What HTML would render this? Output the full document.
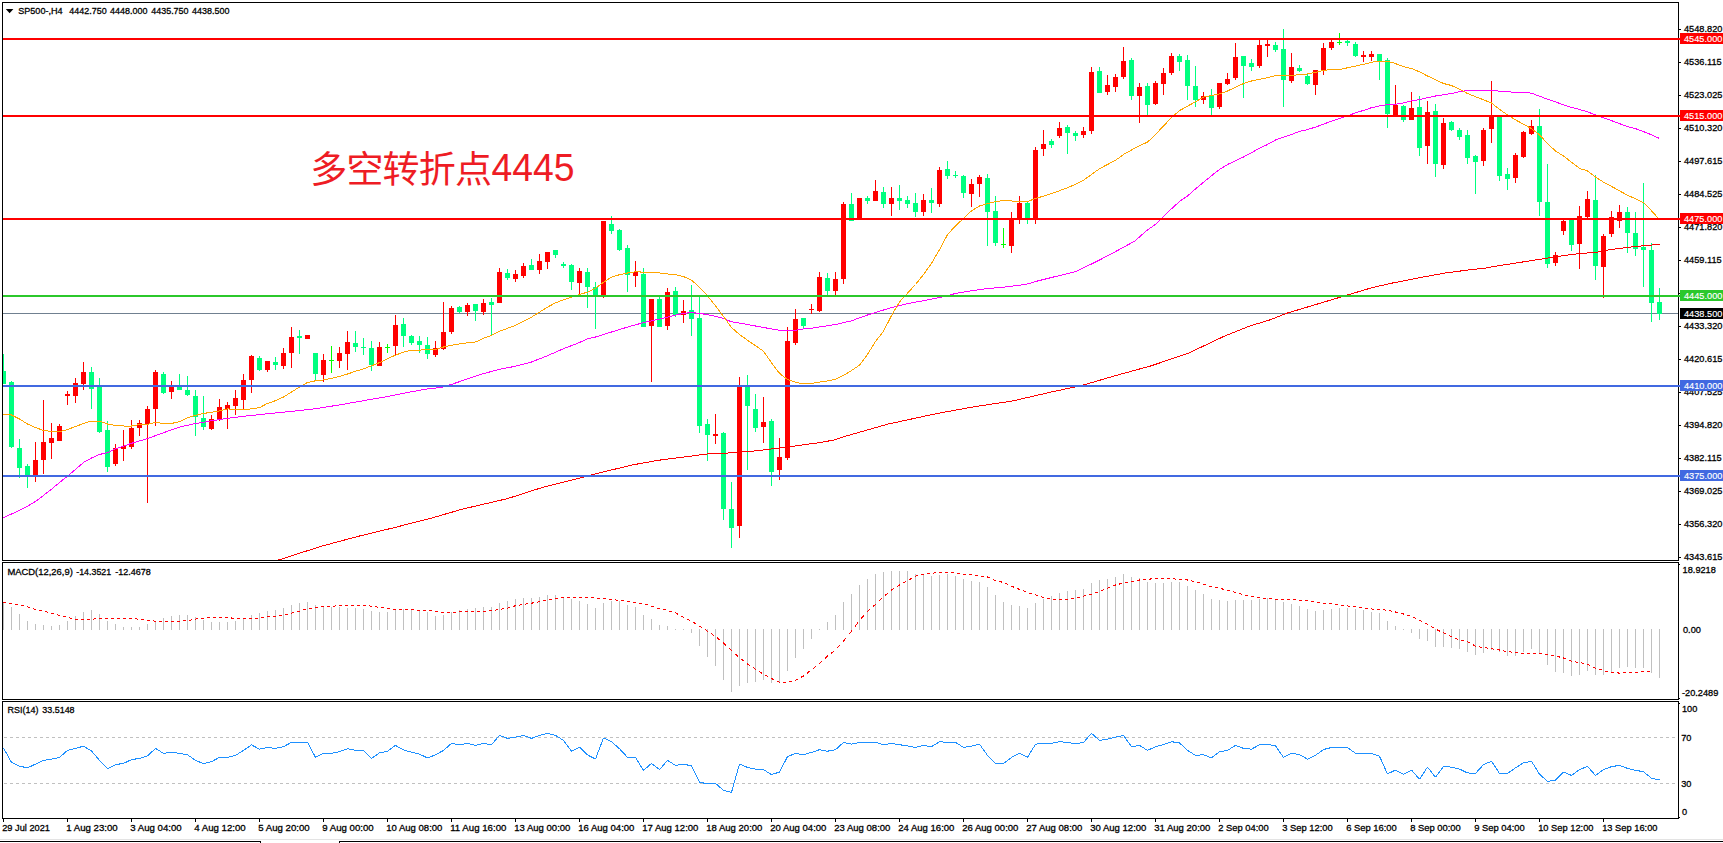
<!DOCTYPE html>
<html lang="zh"><head><meta charset="utf-8"><title>SP500 H4</title>
<style>html,body{margin:0;padding:0;background:#fff}body{width:1723px;height:843px;overflow:hidden}svg{display:block}text{font-family:"Liberation Sans","Noto Sans CJK SC",sans-serif;white-space:pre}</style>
</head><body>
<svg width="1723" height="843" viewBox="0 0 1723 843">
<rect width="1723" height="843" fill="#fff"/>
<defs><clipPath id="cm"><rect x="3" y="3" width="1675" height="557"/></clipPath></defs>
<g shape-rendering="crispEdges">
<g clip-path="url(#cm)">
<rect x="3" y="313" width="1675" height="1" fill="#708090"/>
<rect x="3" y="354" width="1" height="30" fill="#00ff7f"/>
<rect x="1" y="371" width="5" height="13" fill="#00ff7f"/>
<rect x="11" y="381" width="1" height="67" fill="#00ff7f"/>
<rect x="9" y="382" width="5" height="65" fill="#00ff7f"/>
<rect x="19" y="439" width="1" height="39" fill="#00ff7f"/>
<rect x="17" y="448" width="5" height="20" fill="#00ff7f"/>
<rect x="27" y="464" width="1" height="24" fill="#00ff7f"/>
<rect x="25" y="466" width="5" height="9" fill="#00ff7f"/>
<rect x="35" y="442" width="1" height="40" fill="#ff0000"/>
<rect x="33" y="460" width="5" height="15" fill="#ff0000"/>
<rect x="43" y="400" width="1" height="74" fill="#ff0000"/>
<rect x="41" y="442" width="5" height="18" fill="#ff0000"/>
<rect x="51" y="423" width="1" height="36" fill="#ff0000"/>
<rect x="49" y="438" width="5" height="5" fill="#ff0000"/>
<rect x="59" y="424" width="1" height="17" fill="#ff0000"/>
<rect x="57" y="426" width="5" height="15" fill="#ff0000"/>
<rect x="67" y="391" width="1" height="14" fill="#ff0000"/>
<rect x="65" y="394" width="5" height="2" fill="#ff0000"/>
<rect x="75" y="378" width="1" height="25" fill="#ff0000"/>
<rect x="73" y="383" width="5" height="13" fill="#ff0000"/>
<rect x="83" y="362" width="1" height="28" fill="#ff0000"/>
<rect x="81" y="372" width="5" height="12" fill="#ff0000"/>
<rect x="91" y="367" width="1" height="42" fill="#00ff7f"/>
<rect x="89" y="372" width="5" height="17" fill="#00ff7f"/>
<rect x="99" y="378" width="1" height="55" fill="#00ff7f"/>
<rect x="97" y="387" width="5" height="45" fill="#00ff7f"/>
<rect x="107" y="421" width="1" height="51" fill="#00ff7f"/>
<rect x="105" y="430" width="5" height="37" fill="#00ff7f"/>
<rect x="115" y="444" width="1" height="22" fill="#ff0000"/>
<rect x="113" y="448" width="5" height="16" fill="#ff0000"/>
<rect x="123" y="430" width="1" height="31" fill="#ff0000"/>
<rect x="121" y="446" width="5" height="3" fill="#ff0000"/>
<rect x="131" y="420" width="1" height="29" fill="#ff0000"/>
<rect x="129" y="428" width="5" height="19" fill="#ff0000"/>
<rect x="139" y="420" width="1" height="16" fill="#ff0000"/>
<rect x="137" y="423" width="5" height="5" fill="#ff0000"/>
<rect x="147" y="406" width="1" height="97" fill="#ff0000"/>
<rect x="145" y="409" width="5" height="15" fill="#ff0000"/>
<rect x="155" y="370" width="1" height="56" fill="#ff0000"/>
<rect x="153" y="372" width="5" height="37" fill="#ff0000"/>
<rect x="163" y="372" width="1" height="22" fill="#00ff7f"/>
<rect x="161" y="374" width="5" height="19" fill="#00ff7f"/>
<rect x="171" y="381" width="1" height="18" fill="#ff0000"/>
<rect x="169" y="387" width="5" height="5" fill="#ff0000"/>
<rect x="179" y="374" width="1" height="16" fill="#00ff7f"/>
<rect x="177" y="387" width="5" height="3" fill="#00ff7f"/>
<rect x="187" y="376" width="1" height="20" fill="#00ff7f"/>
<rect x="185" y="390" width="5" height="5" fill="#00ff7f"/>
<rect x="195" y="390" width="1" height="46" fill="#00ff7f"/>
<rect x="193" y="396" width="5" height="21" fill="#00ff7f"/>
<rect x="203" y="396" width="1" height="34" fill="#00ff7f"/>
<rect x="201" y="418" width="5" height="9" fill="#00ff7f"/>
<rect x="211" y="415" width="1" height="15" fill="#ff0000"/>
<rect x="209" y="419" width="5" height="10" fill="#ff0000"/>
<rect x="219" y="399" width="1" height="22" fill="#ff0000"/>
<rect x="217" y="407" width="5" height="12" fill="#ff0000"/>
<rect x="227" y="402" width="1" height="27" fill="#ff0000"/>
<rect x="225" y="405" width="5" height="4" fill="#ff0000"/>
<rect x="235" y="390" width="1" height="25" fill="#ff0000"/>
<rect x="233" y="398" width="5" height="8" fill="#ff0000"/>
<rect x="243" y="374" width="1" height="36" fill="#ff0000"/>
<rect x="241" y="380" width="5" height="20" fill="#ff0000"/>
<rect x="251" y="355" width="1" height="38" fill="#ff0000"/>
<rect x="249" y="356" width="5" height="24" fill="#ff0000"/>
<rect x="259" y="356" width="1" height="15" fill="#00ff7f"/>
<rect x="257" y="358" width="5" height="12" fill="#00ff7f"/>
<rect x="267" y="361" width="1" height="11" fill="#ff0000"/>
<rect x="265" y="361" width="5" height="9" fill="#ff0000"/>
<rect x="275" y="357" width="1" height="13" fill="#00ff7f"/>
<rect x="273" y="362" width="5" height="3" fill="#00ff7f"/>
<rect x="283" y="348" width="1" height="21" fill="#ff0000"/>
<rect x="281" y="353" width="5" height="13" fill="#ff0000"/>
<rect x="291" y="327" width="1" height="41" fill="#ff0000"/>
<rect x="289" y="337" width="5" height="16" fill="#ff0000"/>
<rect x="299" y="330" width="1" height="24" fill="#00ff7f"/>
<rect x="297" y="336" width="5" height="2" fill="#00ff7f"/>
<rect x="307" y="335" width="1" height="4" fill="#ff0000"/>
<rect x="305" y="335" width="5" height="4" fill="#ff0000"/>
<rect x="315" y="353" width="1" height="27" fill="#00ff7f"/>
<rect x="313" y="353" width="5" height="21" fill="#00ff7f"/>
<rect x="323" y="354" width="1" height="28" fill="#ff0000"/>
<rect x="321" y="360" width="5" height="15" fill="#ff0000"/>
<rect x="331" y="346" width="1" height="27" fill="#00ff00"/>
<rect x="329" y="360" width="5" height="1" fill="#00ff00"/>
<rect x="339" y="347" width="1" height="21" fill="#ff0000"/>
<rect x="337" y="353" width="5" height="8" fill="#ff0000"/>
<rect x="347" y="331" width="1" height="39" fill="#ff0000"/>
<rect x="345" y="342" width="5" height="12" fill="#ff0000"/>
<rect x="355" y="331" width="1" height="21" fill="#00ff7f"/>
<rect x="353" y="343" width="5" height="4" fill="#00ff7f"/>
<rect x="363" y="338" width="1" height="17" fill="#00ff7f"/>
<rect x="361" y="347" width="5" height="1" fill="#00ff7f"/>
<rect x="371" y="341" width="1" height="30" fill="#00ff7f"/>
<rect x="369" y="348" width="5" height="17" fill="#00ff7f"/>
<rect x="379" y="342" width="1" height="24" fill="#ff0000"/>
<rect x="377" y="347" width="5" height="19" fill="#ff0000"/>
<rect x="387" y="344" width="1" height="9" fill="#00ff00"/>
<rect x="385" y="347" width="5" height="1" fill="#00ff00"/>
<rect x="395" y="315" width="1" height="40" fill="#ff0000"/>
<rect x="393" y="325" width="5" height="21" fill="#ff0000"/>
<rect x="403" y="318" width="1" height="29" fill="#00ff7f"/>
<rect x="401" y="324" width="5" height="12" fill="#00ff7f"/>
<rect x="411" y="335" width="1" height="10" fill="#00ff7f"/>
<rect x="409" y="336" width="5" height="7" fill="#00ff7f"/>
<rect x="419" y="336" width="1" height="17" fill="#00ff7f"/>
<rect x="417" y="341" width="5" height="4" fill="#00ff7f"/>
<rect x="427" y="337" width="1" height="22" fill="#00ff7f"/>
<rect x="425" y="345" width="5" height="9" fill="#00ff7f"/>
<rect x="435" y="341" width="1" height="16" fill="#ff0000"/>
<rect x="433" y="348" width="5" height="7" fill="#ff0000"/>
<rect x="443" y="302" width="1" height="48" fill="#ff0000"/>
<rect x="441" y="332" width="5" height="17" fill="#ff0000"/>
<rect x="451" y="306" width="1" height="28" fill="#ff0000"/>
<rect x="449" y="308" width="5" height="24" fill="#ff0000"/>
<rect x="459" y="306" width="1" height="7" fill="#00ff7f"/>
<rect x="457" y="307" width="5" height="5" fill="#00ff7f"/>
<rect x="467" y="303" width="1" height="13" fill="#ff0000"/>
<rect x="465" y="305" width="5" height="7" fill="#ff0000"/>
<rect x="475" y="304" width="1" height="17" fill="#00ff7f"/>
<rect x="473" y="304" width="5" height="7" fill="#00ff7f"/>
<rect x="483" y="299" width="1" height="16" fill="#ff0000"/>
<rect x="481" y="303" width="5" height="9" fill="#ff0000"/>
<rect x="491" y="298" width="1" height="37" fill="#00ff7f"/>
<rect x="489" y="302" width="5" height="3" fill="#00ff7f"/>
<rect x="499" y="268" width="1" height="35" fill="#ff0000"/>
<rect x="497" y="272" width="5" height="31" fill="#ff0000"/>
<rect x="507" y="269" width="1" height="11" fill="#00ff7f"/>
<rect x="505" y="273" width="5" height="5" fill="#00ff7f"/>
<rect x="515" y="270" width="1" height="12" fill="#ff0000"/>
<rect x="513" y="274" width="5" height="5" fill="#ff0000"/>
<rect x="523" y="263" width="1" height="15" fill="#ff0000"/>
<rect x="521" y="266" width="5" height="10" fill="#ff0000"/>
<rect x="531" y="259" width="1" height="11" fill="#00ff7f"/>
<rect x="529" y="265" width="5" height="5" fill="#00ff7f"/>
<rect x="539" y="254" width="1" height="20" fill="#ff0000"/>
<rect x="537" y="261" width="5" height="9" fill="#ff0000"/>
<rect x="547" y="252" width="1" height="17" fill="#ff0000"/>
<rect x="545" y="252" width="5" height="10" fill="#ff0000"/>
<rect x="555" y="250" width="1" height="8" fill="#00ff7f"/>
<rect x="553" y="250" width="5" height="5" fill="#00ff7f"/>
<rect x="563" y="262" width="1" height="6" fill="#00ff7f"/>
<rect x="561" y="264" width="5" height="2" fill="#00ff7f"/>
<rect x="571" y="264" width="1" height="26" fill="#00ff7f"/>
<rect x="569" y="265" width="5" height="17" fill="#00ff7f"/>
<rect x="579" y="268" width="1" height="27" fill="#ff0000"/>
<rect x="577" y="271" width="5" height="12" fill="#ff0000"/>
<rect x="587" y="268" width="1" height="40" fill="#00ff7f"/>
<rect x="585" y="272" width="5" height="15" fill="#00ff7f"/>
<rect x="595" y="282" width="1" height="47" fill="#00ff7f"/>
<rect x="593" y="287" width="5" height="9" fill="#00ff7f"/>
<rect x="603" y="221" width="1" height="77" fill="#ff0000"/>
<rect x="601" y="221" width="5" height="74" fill="#ff0000"/>
<rect x="611" y="216" width="1" height="18" fill="#00ff7f"/>
<rect x="609" y="224" width="5" height="7" fill="#00ff7f"/>
<rect x="619" y="229" width="1" height="22" fill="#00ff7f"/>
<rect x="617" y="230" width="5" height="20" fill="#00ff7f"/>
<rect x="627" y="245" width="1" height="47" fill="#00ff7f"/>
<rect x="625" y="248" width="5" height="27" fill="#00ff7f"/>
<rect x="635" y="261" width="1" height="26" fill="#ff0000"/>
<rect x="633" y="272" width="5" height="4" fill="#ff0000"/>
<rect x="643" y="268" width="1" height="59" fill="#00ff7f"/>
<rect x="641" y="274" width="5" height="53" fill="#00ff7f"/>
<rect x="651" y="299" width="1" height="83" fill="#ff0000"/>
<rect x="649" y="299" width="5" height="27" fill="#ff0000"/>
<rect x="659" y="297" width="1" height="30" fill="#00ff7f"/>
<rect x="657" y="299" width="5" height="28" fill="#00ff7f"/>
<rect x="667" y="288" width="1" height="42" fill="#ff0000"/>
<rect x="665" y="292" width="5" height="34" fill="#ff0000"/>
<rect x="675" y="287" width="1" height="30" fill="#00ff7f"/>
<rect x="673" y="291" width="5" height="24" fill="#00ff7f"/>
<rect x="683" y="300" width="1" height="23" fill="#ff0000"/>
<rect x="681" y="311" width="5" height="4" fill="#ff0000"/>
<rect x="691" y="285" width="1" height="51" fill="#00ff7f"/>
<rect x="689" y="310" width="5" height="9" fill="#00ff7f"/>
<rect x="699" y="297" width="1" height="136" fill="#00ff7f"/>
<rect x="697" y="318" width="5" height="108" fill="#00ff7f"/>
<rect x="707" y="419" width="1" height="42" fill="#00ff7f"/>
<rect x="705" y="424" width="5" height="11" fill="#00ff7f"/>
<rect x="715" y="414" width="1" height="30" fill="#ff0000"/>
<rect x="713" y="434" width="5" height="2" fill="#ff0000"/>
<rect x="723" y="432" width="1" height="88" fill="#00ff7f"/>
<rect x="721" y="433" width="5" height="76" fill="#00ff7f"/>
<rect x="731" y="482" width="1" height="66" fill="#00ff7f"/>
<rect x="729" y="509" width="5" height="19" fill="#00ff7f"/>
<rect x="739" y="377" width="1" height="161" fill="#ff0000"/>
<rect x="737" y="386" width="5" height="140" fill="#ff0000"/>
<rect x="747" y="375" width="1" height="95" fill="#00ff7f"/>
<rect x="745" y="387" width="5" height="19" fill="#00ff7f"/>
<rect x="755" y="394" width="1" height="38" fill="#00ff7f"/>
<rect x="753" y="409" width="5" height="19" fill="#00ff7f"/>
<rect x="763" y="397" width="1" height="46" fill="#ff0000"/>
<rect x="761" y="422" width="5" height="5" fill="#ff0000"/>
<rect x="771" y="419" width="1" height="67" fill="#00ff7f"/>
<rect x="769" y="421" width="5" height="51" fill="#00ff7f"/>
<rect x="779" y="438" width="1" height="42" fill="#ff0000"/>
<rect x="777" y="457" width="5" height="13" fill="#ff0000"/>
<rect x="787" y="327" width="1" height="133" fill="#ff0000"/>
<rect x="785" y="341" width="5" height="117" fill="#ff0000"/>
<rect x="795" y="309" width="1" height="36" fill="#ff0000"/>
<rect x="793" y="319" width="5" height="24" fill="#ff0000"/>
<rect x="803" y="318" width="1" height="10" fill="#00ff7f"/>
<rect x="801" y="318" width="5" height="8" fill="#00ff7f"/>
<rect x="811" y="304" width="1" height="10" fill="#ff0000"/>
<rect x="809" y="309" width="5" height="1" fill="#ff0000"/>
<rect x="819" y="272" width="1" height="40" fill="#ff0000"/>
<rect x="817" y="277" width="5" height="34" fill="#ff0000"/>
<rect x="827" y="273" width="1" height="22" fill="#00ff7f"/>
<rect x="825" y="278" width="5" height="13" fill="#00ff7f"/>
<rect x="835" y="272" width="1" height="23" fill="#ff0000"/>
<rect x="833" y="279" width="5" height="12" fill="#ff0000"/>
<rect x="843" y="202" width="1" height="82" fill="#ff0000"/>
<rect x="841" y="204" width="5" height="75" fill="#ff0000"/>
<rect x="851" y="193" width="1" height="28" fill="#00ff7f"/>
<rect x="849" y="204" width="5" height="17" fill="#00ff7f"/>
<rect x="859" y="198" width="1" height="21" fill="#ff0000"/>
<rect x="857" y="198" width="5" height="21" fill="#ff0000"/>
<rect x="867" y="196" width="1" height="8" fill="#00ff7f"/>
<rect x="865" y="198" width="5" height="3" fill="#00ff7f"/>
<rect x="875" y="180" width="1" height="21" fill="#ff0000"/>
<rect x="873" y="191" width="5" height="10" fill="#ff0000"/>
<rect x="883" y="187" width="1" height="21" fill="#00ff7f"/>
<rect x="881" y="192" width="5" height="12" fill="#00ff7f"/>
<rect x="891" y="187" width="1" height="29" fill="#ff0000"/>
<rect x="889" y="198" width="5" height="6" fill="#ff0000"/>
<rect x="899" y="185" width="1" height="25" fill="#00ff7f"/>
<rect x="897" y="198" width="5" height="3" fill="#00ff7f"/>
<rect x="907" y="196" width="1" height="12" fill="#00ff7f"/>
<rect x="905" y="200" width="5" height="4" fill="#00ff7f"/>
<rect x="915" y="193" width="1" height="24" fill="#00ff7f"/>
<rect x="913" y="203" width="5" height="9" fill="#00ff7f"/>
<rect x="923" y="194" width="1" height="22" fill="#ff0000"/>
<rect x="921" y="200" width="5" height="12" fill="#ff0000"/>
<rect x="931" y="188" width="1" height="25" fill="#00ff7f"/>
<rect x="929" y="200" width="5" height="3" fill="#00ff7f"/>
<rect x="939" y="167" width="1" height="40" fill="#ff0000"/>
<rect x="937" y="170" width="5" height="34" fill="#ff0000"/>
<rect x="947" y="161" width="1" height="18" fill="#00ff7f"/>
<rect x="945" y="169" width="5" height="7" fill="#00ff7f"/>
<rect x="955" y="171" width="1" height="7" fill="#00ff7f"/>
<rect x="953" y="175" width="5" height="1" fill="#00ff7f"/>
<rect x="963" y="175" width="1" height="23" fill="#00ff7f"/>
<rect x="961" y="176" width="5" height="17" fill="#00ff7f"/>
<rect x="971" y="179" width="1" height="28" fill="#ff0000"/>
<rect x="969" y="184" width="5" height="10" fill="#ff0000"/>
<rect x="979" y="175" width="1" height="22" fill="#ff0000"/>
<rect x="977" y="177" width="5" height="7" fill="#ff0000"/>
<rect x="987" y="174" width="1" height="72" fill="#00ff7f"/>
<rect x="985" y="178" width="5" height="34" fill="#00ff7f"/>
<rect x="995" y="196" width="1" height="50" fill="#00ff7f"/>
<rect x="993" y="211" width="5" height="32" fill="#00ff7f"/>
<rect x="1003" y="228" width="1" height="20" fill="#00ff00"/>
<rect x="1001" y="244" width="5" height="1" fill="#00ff00"/>
<rect x="1011" y="212" width="1" height="41" fill="#ff0000"/>
<rect x="1009" y="219" width="5" height="27" fill="#ff0000"/>
<rect x="1019" y="196" width="1" height="28" fill="#ff0000"/>
<rect x="1017" y="203" width="5" height="15" fill="#ff0000"/>
<rect x="1027" y="202" width="1" height="22" fill="#00ff7f"/>
<rect x="1025" y="203" width="5" height="15" fill="#00ff7f"/>
<rect x="1035" y="147" width="1" height="77" fill="#ff0000"/>
<rect x="1033" y="150" width="5" height="68" fill="#ff0000"/>
<rect x="1043" y="130" width="1" height="26" fill="#ff0000"/>
<rect x="1041" y="144" width="5" height="5" fill="#ff0000"/>
<rect x="1051" y="139" width="1" height="9" fill="#00ff7f"/>
<rect x="1049" y="141" width="5" height="4" fill="#00ff7f"/>
<rect x="1059" y="122" width="1" height="16" fill="#ff0000"/>
<rect x="1057" y="128" width="5" height="8" fill="#ff0000"/>
<rect x="1067" y="125" width="1" height="29" fill="#00ff7f"/>
<rect x="1065" y="127" width="5" height="6" fill="#00ff7f"/>
<rect x="1075" y="131" width="1" height="10" fill="#00ff7f"/>
<rect x="1073" y="133" width="5" height="3" fill="#00ff7f"/>
<rect x="1083" y="127" width="1" height="11" fill="#ff0000"/>
<rect x="1081" y="131" width="5" height="4" fill="#ff0000"/>
<rect x="1091" y="67" width="1" height="67" fill="#ff0000"/>
<rect x="1089" y="72" width="5" height="59" fill="#ff0000"/>
<rect x="1099" y="67" width="1" height="26" fill="#00ff7f"/>
<rect x="1097" y="71" width="5" height="22" fill="#00ff7f"/>
<rect x="1107" y="75" width="1" height="20" fill="#ff0000"/>
<rect x="1105" y="85" width="5" height="7" fill="#ff0000"/>
<rect x="1115" y="74" width="1" height="18" fill="#ff0000"/>
<rect x="1113" y="77" width="5" height="10" fill="#ff0000"/>
<rect x="1123" y="47" width="1" height="32" fill="#ff0000"/>
<rect x="1121" y="61" width="5" height="16" fill="#ff0000"/>
<rect x="1131" y="58" width="1" height="42" fill="#00ff7f"/>
<rect x="1129" y="60" width="5" height="36" fill="#00ff7f"/>
<rect x="1139" y="83" width="1" height="40" fill="#ff0000"/>
<rect x="1137" y="87" width="5" height="9" fill="#ff0000"/>
<rect x="1147" y="83" width="1" height="33" fill="#00ff7f"/>
<rect x="1145" y="86" width="5" height="19" fill="#00ff7f"/>
<rect x="1155" y="81" width="1" height="24" fill="#ff0000"/>
<rect x="1153" y="83" width="5" height="21" fill="#ff0000"/>
<rect x="1163" y="68" width="1" height="27" fill="#ff0000"/>
<rect x="1161" y="73" width="5" height="11" fill="#ff0000"/>
<rect x="1171" y="53" width="1" height="22" fill="#ff0000"/>
<rect x="1169" y="56" width="5" height="17" fill="#ff0000"/>
<rect x="1179" y="54" width="1" height="17" fill="#00ff7f"/>
<rect x="1177" y="56" width="5" height="6" fill="#00ff7f"/>
<rect x="1187" y="55" width="1" height="45" fill="#00ff7f"/>
<rect x="1185" y="60" width="5" height="26" fill="#00ff7f"/>
<rect x="1195" y="66" width="1" height="41" fill="#00ff7f"/>
<rect x="1193" y="86" width="5" height="14" fill="#00ff7f"/>
<rect x="1203" y="92" width="1" height="12" fill="#ff0000"/>
<rect x="1201" y="96" width="5" height="4" fill="#ff0000"/>
<rect x="1211" y="89" width="1" height="26" fill="#00ff7f"/>
<rect x="1209" y="96" width="5" height="12" fill="#00ff7f"/>
<rect x="1219" y="83" width="1" height="26" fill="#ff0000"/>
<rect x="1217" y="83" width="5" height="24" fill="#ff0000"/>
<rect x="1227" y="73" width="1" height="12" fill="#ff0000"/>
<rect x="1225" y="79" width="5" height="5" fill="#ff0000"/>
<rect x="1235" y="43" width="1" height="37" fill="#ff0000"/>
<rect x="1233" y="57" width="5" height="21" fill="#ff0000"/>
<rect x="1243" y="56" width="1" height="42" fill="#00ff7f"/>
<rect x="1241" y="56" width="5" height="10" fill="#00ff7f"/>
<rect x="1251" y="59" width="1" height="12" fill="#00ff7f"/>
<rect x="1249" y="63" width="5" height="4" fill="#00ff7f"/>
<rect x="1259" y="39" width="1" height="29" fill="#ff0000"/>
<rect x="1257" y="45" width="5" height="21" fill="#ff0000"/>
<rect x="1267" y="39" width="1" height="18" fill="#ff0000"/>
<rect x="1265" y="44" width="5" height="2" fill="#ff0000"/>
<rect x="1275" y="42" width="1" height="10" fill="#00ff7f"/>
<rect x="1273" y="45" width="5" height="5" fill="#00ff7f"/>
<rect x="1283" y="29" width="1" height="78" fill="#00ff7f"/>
<rect x="1281" y="49" width="5" height="31" fill="#00ff7f"/>
<rect x="1291" y="53" width="1" height="30" fill="#ff0000"/>
<rect x="1289" y="67" width="5" height="14" fill="#ff0000"/>
<rect x="1299" y="65" width="1" height="7" fill="#00ff7f"/>
<rect x="1297" y="68" width="5" height="3" fill="#00ff7f"/>
<rect x="1307" y="74" width="1" height="11" fill="#00ff7f"/>
<rect x="1305" y="76" width="5" height="8" fill="#00ff7f"/>
<rect x="1315" y="70" width="1" height="25" fill="#ff0000"/>
<rect x="1313" y="70" width="5" height="15" fill="#ff0000"/>
<rect x="1323" y="43" width="1" height="32" fill="#ff0000"/>
<rect x="1321" y="48" width="5" height="23" fill="#ff0000"/>
<rect x="1331" y="40" width="1" height="10" fill="#ff0000"/>
<rect x="1329" y="42" width="5" height="6" fill="#ff0000"/>
<rect x="1339" y="33" width="1" height="12" fill="#00ff00"/>
<rect x="1337" y="42" width="5" height="1" fill="#00ff00"/>
<rect x="1347" y="40" width="1" height="6" fill="#00ff7f"/>
<rect x="1345" y="41" width="5" height="2" fill="#00ff7f"/>
<rect x="1355" y="42" width="1" height="15" fill="#00ff7f"/>
<rect x="1353" y="44" width="5" height="12" fill="#00ff7f"/>
<rect x="1363" y="51" width="1" height="11" fill="#ff0000"/>
<rect x="1361" y="55" width="5" height="2" fill="#ff0000"/>
<rect x="1371" y="51" width="1" height="10" fill="#ff0000"/>
<rect x="1369" y="54" width="5" height="3" fill="#ff0000"/>
<rect x="1379" y="54" width="1" height="26" fill="#00ff7f"/>
<rect x="1377" y="54" width="5" height="8" fill="#00ff7f"/>
<rect x="1387" y="58" width="1" height="70" fill="#00ff7f"/>
<rect x="1385" y="60" width="5" height="54" fill="#00ff7f"/>
<rect x="1395" y="85" width="1" height="30" fill="#ff0000"/>
<rect x="1393" y="105" width="5" height="10" fill="#ff0000"/>
<rect x="1403" y="105" width="1" height="17" fill="#00ff7f"/>
<rect x="1401" y="106" width="5" height="14" fill="#00ff7f"/>
<rect x="1411" y="92" width="1" height="28" fill="#ff0000"/>
<rect x="1409" y="108" width="5" height="12" fill="#ff0000"/>
<rect x="1419" y="96" width="1" height="60" fill="#00ff7f"/>
<rect x="1417" y="107" width="5" height="41" fill="#00ff7f"/>
<rect x="1427" y="101" width="1" height="63" fill="#ff0000"/>
<rect x="1425" y="112" width="5" height="34" fill="#ff0000"/>
<rect x="1435" y="104" width="1" height="73" fill="#00ff7f"/>
<rect x="1433" y="111" width="5" height="53" fill="#00ff7f"/>
<rect x="1443" y="118" width="1" height="51" fill="#ff0000"/>
<rect x="1441" y="123" width="5" height="42" fill="#ff0000"/>
<rect x="1451" y="121" width="1" height="10" fill="#00ff7f"/>
<rect x="1449" y="122" width="5" height="8" fill="#00ff7f"/>
<rect x="1459" y="128" width="1" height="12" fill="#00ff7f"/>
<rect x="1457" y="130" width="5" height="7" fill="#00ff7f"/>
<rect x="1467" y="130" width="1" height="34" fill="#00ff7f"/>
<rect x="1465" y="135" width="5" height="23" fill="#00ff7f"/>
<rect x="1475" y="155" width="1" height="39" fill="#00ff7f"/>
<rect x="1473" y="156" width="5" height="6" fill="#00ff7f"/>
<rect x="1483" y="128" width="1" height="38" fill="#ff0000"/>
<rect x="1481" y="130" width="5" height="31" fill="#ff0000"/>
<rect x="1491" y="81" width="1" height="62" fill="#ff0000"/>
<rect x="1489" y="115" width="5" height="14" fill="#ff0000"/>
<rect x="1499" y="115" width="1" height="66" fill="#00ff7f"/>
<rect x="1497" y="117" width="5" height="59" fill="#00ff7f"/>
<rect x="1507" y="168" width="1" height="22" fill="#00ff7f"/>
<rect x="1505" y="174" width="5" height="5" fill="#00ff7f"/>
<rect x="1515" y="153" width="1" height="30" fill="#ff0000"/>
<rect x="1513" y="155" width="5" height="23" fill="#ff0000"/>
<rect x="1523" y="131" width="1" height="27" fill="#ff0000"/>
<rect x="1521" y="132" width="5" height="25" fill="#ff0000"/>
<rect x="1531" y="120" width="1" height="15" fill="#ff0000"/>
<rect x="1529" y="126" width="5" height="8" fill="#ff0000"/>
<rect x="1539" y="109" width="1" height="107" fill="#00ff7f"/>
<rect x="1537" y="126" width="5" height="76" fill="#00ff7f"/>
<rect x="1547" y="164" width="1" height="104" fill="#00ff7f"/>
<rect x="1545" y="202" width="5" height="62" fill="#00ff7f"/>
<rect x="1555" y="252" width="1" height="14" fill="#ff0000"/>
<rect x="1553" y="255" width="5" height="8" fill="#ff0000"/>
<rect x="1563" y="220" width="1" height="15" fill="#ff0000"/>
<rect x="1561" y="221" width="5" height="10" fill="#ff0000"/>
<rect x="1571" y="219" width="1" height="32" fill="#00ff7f"/>
<rect x="1569" y="220" width="5" height="25" fill="#00ff7f"/>
<rect x="1579" y="206" width="1" height="63" fill="#ff0000"/>
<rect x="1577" y="216" width="5" height="28" fill="#ff0000"/>
<rect x="1587" y="191" width="1" height="27" fill="#ff0000"/>
<rect x="1585" y="199" width="5" height="18" fill="#ff0000"/>
<rect x="1595" y="175" width="1" height="105" fill="#00ff7f"/>
<rect x="1593" y="200" width="5" height="66" fill="#00ff7f"/>
<rect x="1603" y="234" width="1" height="64" fill="#ff0000"/>
<rect x="1601" y="236" width="5" height="31" fill="#ff0000"/>
<rect x="1611" y="211" width="1" height="26" fill="#ff0000"/>
<rect x="1609" y="217" width="5" height="17" fill="#ff0000"/>
<rect x="1619" y="205" width="1" height="23" fill="#ff0000"/>
<rect x="1617" y="212" width="5" height="9" fill="#ff0000"/>
<rect x="1627" y="207" width="1" height="46" fill="#00ff7f"/>
<rect x="1625" y="212" width="5" height="21" fill="#00ff7f"/>
<rect x="1635" y="212" width="1" height="44" fill="#00ff7f"/>
<rect x="1633" y="233" width="5" height="16" fill="#00ff7f"/>
<rect x="1643" y="183" width="1" height="104" fill="#00ff7f"/>
<rect x="1641" y="247" width="5" height="3" fill="#00ff7f"/>
<rect x="1651" y="243" width="1" height="79" fill="#00ff7f"/>
<rect x="1649" y="250" width="5" height="53" fill="#00ff7f"/>
<rect x="1659" y="288" width="1" height="32" fill="#00ff7f"/>
<rect x="1657" y="302" width="5" height="12" fill="#00ff7f"/>
<polyline points="272.5,562.0 279.5,559.7 320.5,546.5 357.5,536.5 395.5,527.3 432.5,517.8 462.5,509.1 507.5,498.6 544.5,486.8 584.5,476.9 594.5,474.1 632.5,464.9 657.5,460.4 692.5,455.9 707.5,453.9 723.5,453.4 739.5,452.1 755.5,450.9 771.5,448.9 787.5,447.2 803.5,444.7 819.5,442.7 835.5,439.7 843.5,436.7 851.5,434.5 887.5,424.2 937.5,413.4 975.5,406.5 1012.5,401.0 1050.5,392.2 1081.5,385.5 1118.5,374.8 1150.5,366.0 1187.5,353.6 1224.5,336.1 1249.5,326.1 1270.5,319.7 1287.5,313.0 1310.5,306.1 1341.5,296.8 1350.5,294.1 1370.5,288.1 1390.5,283.4 1417.5,278.1 1444.5,273.1 1470.5,269.7 1484.5,268.2 1499.5,265.6 1515.5,263.1 1531.5,260.6 1547.5,258.1 1563.5,255.6 1579.5,253.6 1595.5,252.4 1611.5,249.4 1627.5,247.4 1643.5,245.7 1659.5,244.4" fill="none" stroke="#ff0000" stroke-width="1" stroke-linejoin="bevel" />
<polyline points="3.5,517.5 11.5,514.0 19.5,510.4 27.5,506.2 35.5,501.5 43.5,495.4 51.5,489.2 59.5,482.5 67.5,476.2 75.5,469.4 83.5,462.5 91.5,458.0 99.5,454.5 107.5,452.6 115.5,448.7 123.5,446.1 131.5,443.3 147.5,438.6 163.5,432.7 179.5,427.1 195.5,423.5 203.5,422.3 211.5,420.8 227.5,418.3 243.5,416.3 259.5,414.6 275.5,413.0 291.5,411.4 315.5,408.7 339.5,404.9 363.5,400.7 387.5,396.5 403.5,393.2 427.5,388.9 435.5,388.1 443.5,386.9 451.5,384.4 467.5,378.9 483.5,373.6 499.5,369.4 515.5,366.2 531.5,362.0 547.5,355.7 563.5,348.7 579.5,342.5 587.5,338.8 595.5,337.0 611.5,332.0 627.5,327.1 643.5,322.6 659.5,319.1 675.5,315.1 683.5,313.4 691.5,312.6 699.5,313.4 707.5,314.6 715.5,316.3 723.5,318.5 731.5,321.8 747.5,324.5 763.5,327.5 779.5,330.2 787.5,330.7 795.5,330.2 803.5,329.0 811.5,328.2 819.5,327.0 827.5,325.7 835.5,324.5 843.5,322.7 851.5,320.8 859.5,317.8 867.5,315.0 875.5,312.5 883.5,310.0 891.5,307.6 907.5,303.6 923.5,300.7 939.5,297.6 955.5,293.5 971.5,290.7 987.5,288.5 1003.5,287.2 1019.5,285.2 1027.5,284.0 1037.5,281.0 1051.5,277.5 1075.5,271.7 1091.5,264.0 1099.5,260.0 1118.5,250.0 1134.5,241.2 1147.5,230.0 1155.5,224.3 1163.5,216.8 1171.5,208.8 1179.5,201.5 1187.5,196.0 1195.5,188.9 1211.5,175.7 1219.5,169.4 1227.5,164.5 1243.5,157.0 1259.5,148.3 1267.5,144.5 1275.5,140.0 1283.5,137.1 1291.5,134.6 1299.5,131.3 1307.5,129.6 1315.5,127.1 1323.5,124.1 1331.5,121.2 1339.5,118.6 1347.5,115.9 1355.5,112.9 1363.5,110.4 1371.5,107.7 1379.5,105.9 1387.5,104.7 1395.5,104.2 1403.5,102.9 1411.5,100.9 1419.5,99.7 1427.5,97.7 1435.5,96.0 1443.5,94.7 1451.5,93.5 1459.5,91.7 1467.5,90.5 1475.5,90.5 1483.5,90.3 1491.5,90.3 1499.5,91.2 1507.5,91.7 1515.5,92.4 1523.5,92.4 1531.5,93.2 1539.5,96.2 1547.5,99.2 1555.5,101.9 1563.5,104.9 1571.5,107.4 1579.5,109.4 1587.5,111.9 1595.5,114.9 1603.5,117.9 1611.5,120.6 1619.5,123.6 1627.5,126.6 1635.5,128.6 1643.5,131.6 1651.5,134.8 1659.5,138.5" fill="none" stroke="#ff00ff" stroke-width="1" stroke-linejoin="bevel" />
<polyline points="3.5,414.3 11.5,415.0 19.5,419.0 27.5,424.0 35.5,427.5 43.5,430.5 51.5,431.5 59.5,431.8 67.5,429.5 75.5,426.5 83.5,423.5 91.5,421.0 99.5,421.0 107.5,424.0 115.5,425.4 123.5,426.0 131.5,426.0 139.5,424.5 147.5,424.4 155.5,422.3 163.5,423.5 171.5,423.5 179.5,421.6 187.5,417.6 195.5,415.4 203.5,413.5 211.5,412.2 219.5,411.0 227.5,408.9 235.5,409.6 243.5,409.6 251.5,408.9 259.5,407.6 267.5,403.4 275.5,400.7 283.5,397.0 291.5,392.0 299.5,387.0 307.5,382.5 315.5,380.8 323.5,380.0 331.5,378.3 339.5,376.5 347.5,374.0 355.5,371.3 363.5,368.8 371.5,365.8 379.5,362.6 387.5,358.8 395.5,355.1 403.5,352.1 411.5,350.1 419.5,350.1 427.5,349.5 435.5,349.5 443.5,347.0 451.5,345.2 459.5,344.0 467.5,342.7 475.5,342.0 483.5,338.3 491.5,335.3 499.5,331.3 507.5,328.3 515.5,325.3 523.5,321.3 531.5,317.1 539.5,312.1 547.5,307.1 555.5,302.9 563.5,299.7 571.5,297.2 579.5,294.4 587.5,292.2 595.5,288.4 603.5,282.2 611.5,277.2 619.5,274.7 627.5,273.0 635.5,271.7 643.5,272.2 651.5,272.2 659.5,273.0 667.5,274.0 675.5,274.7 683.5,276.5 691.5,280.2 699.5,287.2 707.5,295.9 715.5,305.9 723.5,316.5 731.5,327.5 739.5,334.5 747.5,340.2 755.5,345.7 763.5,351.2 771.5,362.8 779.5,373.3 787.5,379.6 795.5,382.1 803.5,384.0 811.5,383.5 819.5,382.1 827.5,381.0 835.5,379.4 843.5,375.3 851.5,370.6 859.5,365.1 867.5,354.4 875.5,341.5 883.5,331.2 891.5,315.6 899.5,301.9 907.5,293.2 915.5,284.5 923.5,274.5 931.5,263.3 939.5,249.6 947.5,234.6 955.5,225.9 963.5,218.4 971.5,210.9 979.5,206.0 987.5,203.5 995.5,201.7 1003.5,200.5 1011.5,201.0 1019.5,201.0 1027.5,201.5 1035.5,198.5 1043.5,196.1 1051.5,193.6 1059.5,190.7 1067.5,187.7 1075.5,184.4 1083.5,180.2 1091.5,174.5 1099.5,168.7 1107.5,164.5 1115.5,160.3 1123.5,154.5 1131.5,150.0 1139.5,145.8 1147.5,142.1 1155.5,134.6 1163.5,125.9 1171.5,117.7 1179.5,110.6 1187.5,106.2 1195.5,101.7 1203.5,97.2 1211.5,95.5 1219.5,94.0 1227.5,91.0 1235.5,87.2 1243.5,83.5 1251.5,81.0 1259.5,79.3 1267.5,77.8 1275.5,75.5 1283.5,75.3 1291.5,75.3 1299.5,74.8 1307.5,74.0 1315.5,72.3 1323.5,70.5 1331.5,69.5 1339.5,69.5 1347.5,67.8 1355.5,66.1 1363.5,64.3 1371.5,62.3 1379.5,61.1 1387.5,61.1 1395.5,63.6 1403.5,66.6 1411.5,68.5 1419.5,71.8 1427.5,76.0 1435.5,79.8 1443.5,83.5 1451.5,85.5 1459.5,89.2 1467.5,93.5 1475.5,96.7 1483.5,99.8 1491.5,102.9 1499.5,109.4 1507.5,114.9 1515.5,119.8 1523.5,124.3 1531.5,128.6 1539.5,134.8 1547.5,143.5 1555.5,151.0 1563.5,156.0 1571.5,162.2 1579.5,168.4 1587.5,170.9 1595.5,177.1 1603.5,182.1 1611.5,186.4 1619.5,190.8 1627.5,195.3 1635.5,198.8 1643.5,202.8 1651.5,210.8 1659.5,219.5" fill="none" stroke="#ffa500" stroke-width="1" stroke-linejoin="bevel" />
<rect x="3" y="38" width="1675" height="2" fill="#ff0000"/>
<rect x="3" y="115" width="1675" height="2" fill="#ff0000"/>
<rect x="3" y="218" width="1675" height="2" fill="#ff0000"/>
<rect x="3" y="295" width="1675" height="2" fill="#2bc82b"/>
<rect x="3" y="385" width="1675" height="2" fill="#4169e1"/>
<rect x="3" y="475" width="1675" height="2" fill="#4169e1"/>
</g>
<rect x="3" y="603" width="1" height="27" fill="#c0c0c0"/>
<rect x="11" y="607" width="1" height="23" fill="#c0c0c0"/>
<rect x="19" y="614" width="1" height="16" fill="#c0c0c0"/>
<rect x="27" y="621" width="1" height="9" fill="#c0c0c0"/>
<rect x="35" y="624" width="1" height="6" fill="#c0c0c0"/>
<rect x="43" y="625" width="1" height="5" fill="#c0c0c0"/>
<rect x="51" y="626" width="1" height="4" fill="#c0c0c0"/>
<rect x="59" y="625" width="1" height="5" fill="#c0c0c0"/>
<rect x="67" y="621" width="1" height="9" fill="#c0c0c0"/>
<rect x="75" y="616" width="1" height="14" fill="#c0c0c0"/>
<rect x="83" y="612" width="1" height="18" fill="#c0c0c0"/>
<rect x="91" y="610" width="1" height="20" fill="#c0c0c0"/>
<rect x="99" y="614" width="1" height="16" fill="#c0c0c0"/>
<rect x="107" y="621" width="1" height="9" fill="#c0c0c0"/>
<rect x="115" y="624" width="1" height="6" fill="#c0c0c0"/>
<rect x="123" y="627" width="1" height="3" fill="#c0c0c0"/>
<rect x="131" y="627" width="1" height="3" fill="#c0c0c0"/>
<rect x="139" y="627" width="1" height="3" fill="#c0c0c0"/>
<rect x="147" y="624" width="1" height="6" fill="#c0c0c0"/>
<rect x="155" y="621" width="1" height="9" fill="#c0c0c0"/>
<rect x="163" y="618" width="1" height="12" fill="#c0c0c0"/>
<rect x="171" y="616" width="1" height="14" fill="#c0c0c0"/>
<rect x="179" y="615" width="1" height="15" fill="#c0c0c0"/>
<rect x="187" y="615" width="1" height="15" fill="#c0c0c0"/>
<rect x="195" y="617" width="1" height="13" fill="#c0c0c0"/>
<rect x="203" y="620" width="1" height="10" fill="#c0c0c0"/>
<rect x="211" y="622" width="1" height="8" fill="#c0c0c0"/>
<rect x="219" y="622" width="1" height="8" fill="#c0c0c0"/>
<rect x="227" y="622" width="1" height="8" fill="#c0c0c0"/>
<rect x="235" y="621" width="1" height="9" fill="#c0c0c0"/>
<rect x="243" y="619" width="1" height="11" fill="#c0c0c0"/>
<rect x="251" y="615" width="1" height="15" fill="#c0c0c0"/>
<rect x="259" y="613" width="1" height="17" fill="#c0c0c0"/>
<rect x="267" y="611" width="1" height="19" fill="#c0c0c0"/>
<rect x="275" y="610" width="1" height="20" fill="#c0c0c0"/>
<rect x="283" y="608" width="1" height="22" fill="#c0c0c0"/>
<rect x="291" y="605" width="1" height="25" fill="#c0c0c0"/>
<rect x="299" y="603" width="1" height="27" fill="#c0c0c0"/>
<rect x="307" y="602" width="1" height="28" fill="#c0c0c0"/>
<rect x="315" y="605" width="1" height="25" fill="#c0c0c0"/>
<rect x="323" y="606" width="1" height="24" fill="#c0c0c0"/>
<rect x="331" y="607" width="1" height="23" fill="#c0c0c0"/>
<rect x="339" y="607" width="1" height="23" fill="#c0c0c0"/>
<rect x="347" y="608" width="1" height="22" fill="#c0c0c0"/>
<rect x="355" y="608" width="1" height="22" fill="#c0c0c0"/>
<rect x="363" y="609" width="1" height="21" fill="#c0c0c0"/>
<rect x="371" y="611" width="1" height="19" fill="#c0c0c0"/>
<rect x="379" y="612" width="1" height="18" fill="#c0c0c0"/>
<rect x="387" y="612" width="1" height="18" fill="#c0c0c0"/>
<rect x="395" y="609" width="1" height="21" fill="#c0c0c0"/>
<rect x="403" y="609" width="1" height="21" fill="#c0c0c0"/>
<rect x="411" y="610" width="1" height="20" fill="#c0c0c0"/>
<rect x="419" y="611" width="1" height="19" fill="#c0c0c0"/>
<rect x="427" y="612" width="1" height="18" fill="#c0c0c0"/>
<rect x="435" y="616" width="1" height="14" fill="#c0c0c0"/>
<rect x="443" y="615" width="1" height="15" fill="#c0c0c0"/>
<rect x="451" y="612" width="1" height="18" fill="#c0c0c0"/>
<rect x="459" y="610" width="1" height="20" fill="#c0c0c0"/>
<rect x="467" y="609" width="1" height="21" fill="#c0c0c0"/>
<rect x="475" y="608" width="1" height="22" fill="#c0c0c0"/>
<rect x="483" y="607" width="1" height="23" fill="#c0c0c0"/>
<rect x="491" y="607" width="1" height="23" fill="#c0c0c0"/>
<rect x="499" y="603" width="1" height="27" fill="#c0c0c0"/>
<rect x="507" y="601" width="1" height="29" fill="#c0c0c0"/>
<rect x="515" y="599" width="1" height="31" fill="#c0c0c0"/>
<rect x="523" y="598" width="1" height="32" fill="#c0c0c0"/>
<rect x="531" y="598" width="1" height="32" fill="#c0c0c0"/>
<rect x="539" y="597" width="1" height="33" fill="#c0c0c0"/>
<rect x="547" y="595" width="1" height="35" fill="#c0c0c0"/>
<rect x="555" y="595" width="1" height="35" fill="#c0c0c0"/>
<rect x="563" y="597" width="1" height="33" fill="#c0c0c0"/>
<rect x="571" y="599" width="1" height="31" fill="#c0c0c0"/>
<rect x="579" y="601" width="1" height="29" fill="#c0c0c0"/>
<rect x="587" y="604" width="1" height="26" fill="#c0c0c0"/>
<rect x="595" y="608" width="1" height="22" fill="#c0c0c0"/>
<rect x="603" y="603" width="1" height="27" fill="#c0c0c0"/>
<rect x="611" y="601" width="1" height="29" fill="#c0c0c0"/>
<rect x="619" y="601" width="1" height="29" fill="#c0c0c0"/>
<rect x="627" y="605" width="1" height="25" fill="#c0c0c0"/>
<rect x="635" y="607" width="1" height="23" fill="#c0c0c0"/>
<rect x="643" y="615" width="1" height="15" fill="#c0c0c0"/>
<rect x="651" y="619" width="1" height="11" fill="#c0c0c0"/>
<rect x="659" y="625" width="1" height="5" fill="#c0c0c0"/>
<rect x="667" y="626" width="1" height="4" fill="#c0c0c0"/>
<rect x="675" y="629" width="1" height="1" fill="#c0c0c0"/>
<rect x="683" y="629" width="1" height="1" fill="#c0c0c0"/>
<rect x="691" y="629" width="1" height="4" fill="#c0c0c0"/>
<rect x="699" y="629" width="1" height="17" fill="#c0c0c0"/>
<rect x="707" y="629" width="1" height="28" fill="#c0c0c0"/>
<rect x="715" y="629" width="1" height="37" fill="#c0c0c0"/>
<rect x="723" y="629" width="1" height="51" fill="#c0c0c0"/>
<rect x="731" y="629" width="1" height="63" fill="#c0c0c0"/>
<rect x="739" y="629" width="1" height="57" fill="#c0c0c0"/>
<rect x="747" y="629" width="1" height="54" fill="#c0c0c0"/>
<rect x="755" y="629" width="1" height="53" fill="#c0c0c0"/>
<rect x="763" y="629" width="1" height="51" fill="#c0c0c0"/>
<rect x="771" y="629" width="1" height="54" fill="#c0c0c0"/>
<rect x="779" y="629" width="1" height="53" fill="#c0c0c0"/>
<rect x="787" y="629" width="1" height="42" fill="#c0c0c0"/>
<rect x="795" y="629" width="1" height="29" fill="#c0c0c0"/>
<rect x="803" y="629" width="1" height="20" fill="#c0c0c0"/>
<rect x="811" y="629" width="1" height="10" fill="#c0c0c0"/>
<rect x="819" y="629" width="1" height="1" fill="#c0c0c0"/>
<rect x="827" y="622" width="1" height="8" fill="#c0c0c0"/>
<rect x="835" y="615" width="1" height="15" fill="#c0c0c0"/>
<rect x="843" y="602" width="1" height="28" fill="#c0c0c0"/>
<rect x="851" y="594" width="1" height="36" fill="#c0c0c0"/>
<rect x="859" y="585" width="1" height="45" fill="#c0c0c0"/>
<rect x="867" y="579" width="1" height="51" fill="#c0c0c0"/>
<rect x="875" y="574" width="1" height="56" fill="#c0c0c0"/>
<rect x="883" y="572" width="1" height="58" fill="#c0c0c0"/>
<rect x="891" y="571" width="1" height="59" fill="#c0c0c0"/>
<rect x="899" y="571" width="1" height="59" fill="#c0c0c0"/>
<rect x="907" y="571" width="1" height="59" fill="#c0c0c0"/>
<rect x="915" y="574" width="1" height="56" fill="#c0c0c0"/>
<rect x="923" y="574" width="1" height="56" fill="#c0c0c0"/>
<rect x="931" y="576" width="1" height="54" fill="#c0c0c0"/>
<rect x="939" y="575" width="1" height="55" fill="#c0c0c0"/>
<rect x="947" y="574" width="1" height="56" fill="#c0c0c0"/>
<rect x="955" y="576" width="1" height="54" fill="#c0c0c0"/>
<rect x="963" y="579" width="1" height="51" fill="#c0c0c0"/>
<rect x="971" y="581" width="1" height="49" fill="#c0c0c0"/>
<rect x="979" y="582" width="1" height="48" fill="#c0c0c0"/>
<rect x="987" y="587" width="1" height="43" fill="#c0c0c0"/>
<rect x="995" y="595" width="1" height="35" fill="#c0c0c0"/>
<rect x="1003" y="602" width="1" height="28" fill="#c0c0c0"/>
<rect x="1011" y="605" width="1" height="25" fill="#c0c0c0"/>
<rect x="1019" y="606" width="1" height="24" fill="#c0c0c0"/>
<rect x="1027" y="608" width="1" height="22" fill="#c0c0c0"/>
<rect x="1035" y="603" width="1" height="27" fill="#c0c0c0"/>
<rect x="1043" y="599" width="1" height="31" fill="#c0c0c0"/>
<rect x="1051" y="596" width="1" height="34" fill="#c0c0c0"/>
<rect x="1059" y="593" width="1" height="37" fill="#c0c0c0"/>
<rect x="1067" y="591" width="1" height="39" fill="#c0c0c0"/>
<rect x="1075" y="590" width="1" height="40" fill="#c0c0c0"/>
<rect x="1083" y="589" width="1" height="41" fill="#c0c0c0"/>
<rect x="1091" y="583" width="1" height="47" fill="#c0c0c0"/>
<rect x="1099" y="580" width="1" height="50" fill="#c0c0c0"/>
<rect x="1107" y="579" width="1" height="51" fill="#c0c0c0"/>
<rect x="1115" y="577" width="1" height="53" fill="#c0c0c0"/>
<rect x="1123" y="574" width="1" height="56" fill="#c0c0c0"/>
<rect x="1131" y="577" width="1" height="53" fill="#c0c0c0"/>
<rect x="1139" y="578" width="1" height="52" fill="#c0c0c0"/>
<rect x="1147" y="582" width="1" height="48" fill="#c0c0c0"/>
<rect x="1155" y="583" width="1" height="47" fill="#c0c0c0"/>
<rect x="1163" y="583" width="1" height="47" fill="#c0c0c0"/>
<rect x="1171" y="582" width="1" height="48" fill="#c0c0c0"/>
<rect x="1179" y="582" width="1" height="48" fill="#c0c0c0"/>
<rect x="1187" y="586" width="1" height="44" fill="#c0c0c0"/>
<rect x="1195" y="590" width="1" height="40" fill="#c0c0c0"/>
<rect x="1203" y="594" width="1" height="36" fill="#c0c0c0"/>
<rect x="1211" y="599" width="1" height="31" fill="#c0c0c0"/>
<rect x="1219" y="600" width="1" height="30" fill="#c0c0c0"/>
<rect x="1227" y="601" width="1" height="29" fill="#c0c0c0"/>
<rect x="1235" y="600" width="1" height="30" fill="#c0c0c0"/>
<rect x="1243" y="600" width="1" height="30" fill="#c0c0c0"/>
<rect x="1251" y="600" width="1" height="30" fill="#c0c0c0"/>
<rect x="1259" y="599" width="1" height="31" fill="#c0c0c0"/>
<rect x="1267" y="598" width="1" height="32" fill="#c0c0c0"/>
<rect x="1275" y="599" width="1" height="31" fill="#c0c0c0"/>
<rect x="1283" y="602" width="1" height="28" fill="#c0c0c0"/>
<rect x="1291" y="604" width="1" height="26" fill="#c0c0c0"/>
<rect x="1299" y="606" width="1" height="24" fill="#c0c0c0"/>
<rect x="1307" y="609" width="1" height="21" fill="#c0c0c0"/>
<rect x="1315" y="611" width="1" height="19" fill="#c0c0c0"/>
<rect x="1323" y="610" width="1" height="20" fill="#c0c0c0"/>
<rect x="1331" y="609" width="1" height="21" fill="#c0c0c0"/>
<rect x="1339" y="608" width="1" height="22" fill="#c0c0c0"/>
<rect x="1347" y="608" width="1" height="22" fill="#c0c0c0"/>
<rect x="1355" y="609" width="1" height="21" fill="#c0c0c0"/>
<rect x="1363" y="610" width="1" height="20" fill="#c0c0c0"/>
<rect x="1371" y="612" width="1" height="18" fill="#c0c0c0"/>
<rect x="1379" y="613" width="1" height="17" fill="#c0c0c0"/>
<rect x="1387" y="621" width="1" height="9" fill="#c0c0c0"/>
<rect x="1395" y="626" width="1" height="4" fill="#c0c0c0"/>
<rect x="1403" y="629" width="1" height="1" fill="#c0c0c0"/>
<rect x="1411" y="629" width="1" height="4" fill="#c0c0c0"/>
<rect x="1419" y="629" width="1" height="10" fill="#c0c0c0"/>
<rect x="1427" y="629" width="1" height="12" fill="#c0c0c0"/>
<rect x="1435" y="629" width="1" height="18" fill="#c0c0c0"/>
<rect x="1443" y="629" width="1" height="18" fill="#c0c0c0"/>
<rect x="1451" y="629" width="1" height="19" fill="#c0c0c0"/>
<rect x="1459" y="629" width="1" height="20" fill="#c0c0c0"/>
<rect x="1467" y="629" width="1" height="23" fill="#c0c0c0"/>
<rect x="1475" y="629" width="1" height="26" fill="#c0c0c0"/>
<rect x="1483" y="629" width="1" height="24" fill="#c0c0c0"/>
<rect x="1491" y="629" width="1" height="21" fill="#c0c0c0"/>
<rect x="1499" y="629" width="1" height="23" fill="#c0c0c0"/>
<rect x="1507" y="629" width="1" height="27" fill="#c0c0c0"/>
<rect x="1515" y="629" width="1" height="27" fill="#c0c0c0"/>
<rect x="1523" y="629" width="1" height="23" fill="#c0c0c0"/>
<rect x="1531" y="629" width="1" height="20" fill="#c0c0c0"/>
<rect x="1539" y="629" width="1" height="25" fill="#c0c0c0"/>
<rect x="1547" y="629" width="1" height="36" fill="#c0c0c0"/>
<rect x="1555" y="629" width="1" height="43" fill="#c0c0c0"/>
<rect x="1563" y="629" width="1" height="44" fill="#c0c0c0"/>
<rect x="1571" y="629" width="1" height="47" fill="#c0c0c0"/>
<rect x="1579" y="629" width="1" height="46" fill="#c0c0c0"/>
<rect x="1587" y="629" width="1" height="42" fill="#c0c0c0"/>
<rect x="1595" y="629" width="1" height="46" fill="#c0c0c0"/>
<rect x="1603" y="629" width="1" height="46" fill="#c0c0c0"/>
<rect x="1611" y="629" width="1" height="44" fill="#c0c0c0"/>
<rect x="1619" y="629" width="1" height="39" fill="#c0c0c0"/>
<rect x="1627" y="629" width="1" height="38" fill="#c0c0c0"/>
<rect x="1635" y="629" width="1" height="39" fill="#c0c0c0"/>
<rect x="1643" y="629" width="1" height="39" fill="#c0c0c0"/>
<rect x="1651" y="629" width="1" height="44" fill="#c0c0c0"/>
<rect x="1659" y="629" width="1" height="49" fill="#c0c0c0"/>
<defs><pattern id="st" patternUnits="userSpaceOnUse" x="3" y="0" width="6" height="200"><rect x="0" y="0" width="3" height="200" fill="#fff"/></pattern><mask id="dm" maskUnits="userSpaceOnUse" x="0" y="560" width="1723" height="142"><rect x="0" y="560" width="1723" height="142" fill="url(#st)"/></mask></defs>
<g mask="url(#dm)"><polyline points="3.5,602.4 11.5,603.7 19.5,604.9 27.5,606.9 35.5,609.4 43.5,611.2 51.5,613.2 59.5,615.4 67.5,617.4 75.5,619.1 83.5,619.4 91.5,619.4 99.5,618.1 107.5,618.1 115.5,618.1 123.5,618.1 131.5,618.1 139.5,619.4 147.5,620.4 155.5,621.1 163.5,621.6 171.5,621.9 179.5,621.1 187.5,620.6 195.5,619.1 203.5,618.1 211.5,617.4 219.5,617.4 227.5,617.4 235.5,618.6 243.5,618.6 251.5,618.1 259.5,618.1 267.5,616.9 275.5,616.2 283.5,614.9 291.5,613.2 299.5,611.2 307.5,608.7 315.5,607.4 323.5,606.4 331.5,606.4 339.5,605.4 347.5,605.4 355.5,605.4 363.5,605.4 371.5,606.2 379.5,607.4 387.5,608.2 395.5,609.4 403.5,609.4 411.5,609.9 419.5,610.2 427.5,610.4 435.5,611.2 443.5,612.4 451.5,612.4 459.5,611.7 467.5,611.7 475.5,611.7 483.5,611.7 491.5,610.7 499.5,609.4 507.5,608.2 515.5,605.7 523.5,604.4 531.5,603.2 539.5,601.7 547.5,599.9 555.5,598.7 563.5,597.4 571.5,597.4 579.5,597.4 587.5,597.4 595.5,598.2 603.5,598.7 611.5,599.4 619.5,600.4 627.5,601.2 635.5,602.4 643.5,603.7 651.5,606.2 659.5,608.7 667.5,610.4 675.5,612.9 683.5,617.4 691.5,621.1 699.5,626.1 707.5,631.1 715.5,636.5 723.5,643.0 731.5,650.7 739.5,657.6 747.5,664.0 755.5,669.1 763.5,674.3 771.5,678.5 779.5,682.3 787.5,682.3 795.5,680.3 803.5,676.0 811.5,669.8 819.5,663.6 827.5,656.1 835.5,649.8 843.5,641.1 851.5,631.1 859.5,620.5 867.5,611.2 875.5,604.4 883.5,596.9 891.5,589.9 899.5,585.0 907.5,580.7 915.5,576.2 923.5,574.2 931.5,573.2 939.5,572.5 947.5,572.5 955.5,573.0 963.5,574.2 971.5,575.0 979.5,576.2 987.5,577.0 995.5,580.5 1003.5,582.5 1011.5,586.2 1019.5,589.4 1027.5,592.4 1035.5,594.9 1043.5,597.4 1051.5,599.4 1059.5,599.9 1067.5,599.2 1075.5,597.9 1083.5,596.2 1091.5,594.2 1099.5,591.7 1107.5,588.2 1115.5,585.0 1123.5,583.0 1131.5,581.7 1139.5,580.0 1147.5,579.2 1155.5,578.7 1163.5,578.7 1171.5,578.7 1179.5,579.5 1187.5,580.0 1195.5,581.7 1203.5,584.2 1211.5,586.7 1219.5,588.2 1227.5,590.4 1235.5,592.4 1243.5,594.9 1251.5,596.7 1259.5,597.4 1267.5,598.7 1275.5,599.2 1283.5,599.4 1291.5,599.5 1299.5,600.2 1307.5,601.0 1315.5,602.2 1323.5,603.2 1331.5,604.0 1339.5,605.2 1347.5,606.0 1355.5,607.0 1363.5,608.3 1371.5,609.0 1379.5,609.5 1387.5,610.3 1395.5,612.0 1403.5,614.0 1411.5,616.5 1419.5,620.3 1427.5,624.1 1435.5,629.1 1443.5,632.9 1451.5,636.7 1459.5,639.9 1467.5,641.7 1475.5,646.2 1483.5,647.5 1491.5,648.7 1499.5,650.0 1507.5,651.7 1515.5,652.5 1523.5,653.5 1531.5,653.5 1539.5,653.5 1547.5,654.2 1555.5,656.0 1563.5,658.0 1571.5,661.3 1579.5,662.5 1587.5,664.3 1595.5,668.1 1603.5,670.6 1611.5,672.3 1619.5,673.1 1627.5,672.3 1635.5,672.3 1643.5,671.3 1651.5,671.3" fill="none" stroke="#ff0000" stroke-width="1" stroke-linejoin="bevel" /></g>
<line x1="4" y1="737.5" x2="1678" y2="737.5" stroke="#c0c0c0" stroke-width="1" stroke-dasharray="3 3"/>
<line x1="4" y1="783.5" x2="1678" y2="783.5" stroke="#c0c0c0" stroke-width="1" stroke-dasharray="3 3"/>
<polyline points="3.5,747.9 11.5,762.4 19.5,766.1 27.5,767.9 35.5,764.1 43.5,760.4 51.5,759.1 59.5,757.4 67.5,750.4 75.5,748.4 83.5,746.2 91.5,750.9 99.5,760.4 107.5,768.6 115.5,764.6 123.5,763.4 131.5,759.6 139.5,758.4 147.5,755.9 155.5,748.4 163.5,753.4 171.5,752.2 179.5,753.4 187.5,754.7 195.5,760.4 203.5,763.6 211.5,761.6 219.5,757.4 227.5,757.4 235.5,755.4 243.5,750.4 251.5,744.9 259.5,749.2 267.5,747.4 275.5,748.4 283.5,746.7 291.5,742.4 299.5,742.2 307.5,742.2 315.5,757.4 323.5,753.4 331.5,753.4 339.5,751.7 347.5,748.7 355.5,750.4 363.5,750.4 371.5,758.4 379.5,752.9 387.5,751.2 395.5,745.4 403.5,749.9 411.5,752.2 419.5,754.2 427.5,757.9 435.5,754.9 443.5,750.4 451.5,743.4 459.5,744.7 467.5,743.4 475.5,745.4 483.5,743.4 491.5,744.7 499.5,735.4 507.5,738.4 515.5,737.2 523.5,735.4 531.5,738.4 539.5,735.4 547.5,733.4 555.5,735.4 563.5,740.4 571.5,751.2 579.5,747.2 587.5,754.9 595.5,759.1 603.5,737.9 611.5,741.7 619.5,748.7 627.5,757.4 635.5,757.4 643.5,770.4 651.5,763.4 659.5,769.6 667.5,760.4 675.5,765.4 683.5,764.1 691.5,765.9 699.5,782.4 707.5,783.6 715.5,783.4 723.5,790.3 731.5,792.3 739.5,764.1 747.5,767.4 755.5,769.1 763.5,769.6 771.5,774.6 779.5,772.1 787.5,756.6 795.5,753.4 803.5,754.7 811.5,752.4 819.5,749.7 827.5,751.2 835.5,749.7 843.5,742.4 851.5,744.2 859.5,742.4 867.5,742.4 875.5,742.4 883.5,744.7 891.5,743.4 899.5,744.7 907.5,745.9 915.5,747.4 923.5,745.4 931.5,746.7 939.5,741.7 947.5,742.4 955.5,742.4 963.5,747.4 971.5,746.2 979.5,744.2 987.5,755.4 995.5,763.4 1003.5,763.4 1011.5,757.4 1019.5,753.4 1027.5,757.4 1035.5,744.2 1043.5,743.4 1051.5,743.4 1059.5,741.7 1067.5,742.4 1075.5,743.7 1083.5,742.4 1091.5,733.4 1099.5,740.4 1107.5,739.2 1115.5,737.2 1123.5,735.4 1131.5,746.7 1139.5,745.4 1147.5,750.4 1155.5,746.7 1163.5,744.7 1171.5,741.7 1179.5,742.9 1187.5,750.4 1195.5,755.4 1203.5,754.7 1211.5,757.9 1219.5,751.7 1227.5,750.4 1235.5,745.4 1243.5,748.4 1251.5,749.2 1259.5,744.7 1267.5,744.2 1275.5,745.9 1283.5,757.4 1291.5,753.3 1299.5,754.5 1307.5,759.1 1315.5,755.3 1323.5,749.5 1331.5,747.5 1339.5,747.5 1347.5,747.5 1355.5,753.3 1363.5,753.3 1371.5,753.3 1379.5,756.3 1387.5,773.9 1395.5,770.1 1403.5,774.2 1411.5,770.1 1419.5,779.2 1427.5,767.1 1435.5,777.2 1443.5,766.4 1451.5,767.1 1459.5,769.1 1467.5,772.9 1475.5,773.4 1483.5,764.6 1491.5,761.3 1499.5,773.4 1507.5,773.4 1515.5,767.9 1523.5,762.8 1531.5,761.3 1539.5,774.2 1547.5,781.4 1555.5,780.2 1563.5,772.1 1571.5,775.4 1579.5,769.6 1587.5,766.4 1595.5,775.4 1603.5,769.6 1611.5,766.6 1619.5,765.4 1627.5,768.4 1635.5,770.4 1643.5,771.6 1651.5,778.4 1659.5,779.7" fill="none" stroke="#1e90ff" stroke-width="1" stroke-linejoin="bevel" />
<rect x="2" y="2" width="1" height="817" fill="#000"/>
<rect x="1678" y="2" width="1" height="817" fill="#000"/>
<rect x="2" y="2" width="1677" height="1" fill="#000"/>
<rect x="2" y="560" width="1677" height="1" fill="#000"/>
<rect x="2" y="562" width="1677" height="1" fill="#000"/>
<rect x="2" y="699" width="1677" height="1" fill="#000"/>
<rect x="2" y="701" width="1677" height="1" fill="#000"/>
<rect x="2" y="818" width="1677" height="1" fill="#000"/>
<rect x="2" y="561" width="1" height="1" fill="#fff"/>
<rect x="2" y="700" width="1" height="1" fill="#fff"/>
<rect x="1678" y="561" width="1" height="1" fill="#fff"/>
<rect x="1678" y="700" width="1" height="1" fill="#fff"/>
<rect x="1679" y="29" width="2" height="1" fill="#000"/>
<rect x="1679" y="62" width="2" height="1" fill="#000"/>
<rect x="1679" y="95" width="2" height="1" fill="#000"/>
<rect x="1679" y="128" width="2" height="1" fill="#000"/>
<rect x="1679" y="161" width="2" height="1" fill="#000"/>
<rect x="1679" y="194" width="2" height="1" fill="#000"/>
<rect x="1679" y="227" width="2" height="1" fill="#000"/>
<rect x="1679" y="260" width="2" height="1" fill="#000"/>
<rect x="1679" y="293" width="2" height="1" fill="#000"/>
<rect x="1679" y="326" width="2" height="1" fill="#000"/>
<rect x="1679" y="359" width="2" height="1" fill="#000"/>
<rect x="1679" y="392" width="2" height="1" fill="#000"/>
<rect x="1679" y="425" width="2" height="1" fill="#000"/>
<rect x="1679" y="458" width="2" height="1" fill="#000"/>
<rect x="1679" y="491" width="2" height="1" fill="#000"/>
<rect x="1679" y="524" width="2" height="1" fill="#000"/>
<rect x="1679" y="557" width="2" height="1" fill="#000"/>
<rect x="1679" y="564" width="1" height="1" fill="#000"/>
<rect x="1679" y="698" width="1" height="1" fill="#000"/>
<rect x="1679" y="703" width="1" height="1" fill="#000"/>
<rect x="1679" y="817" width="1" height="1" fill="#000"/>
<rect x="3" y="819" width="1" height="3" fill="#000"/>
<rect x="67" y="819" width="1" height="3" fill="#000"/>
<rect x="131" y="819" width="1" height="3" fill="#000"/>
<rect x="195" y="819" width="1" height="3" fill="#000"/>
<rect x="259" y="819" width="1" height="3" fill="#000"/>
<rect x="323" y="819" width="1" height="3" fill="#000"/>
<rect x="387" y="819" width="1" height="3" fill="#000"/>
<rect x="451" y="819" width="1" height="3" fill="#000"/>
<rect x="515" y="819" width="1" height="3" fill="#000"/>
<rect x="579" y="819" width="1" height="3" fill="#000"/>
<rect x="643" y="819" width="1" height="3" fill="#000"/>
<rect x="707" y="819" width="1" height="3" fill="#000"/>
<rect x="771" y="819" width="1" height="3" fill="#000"/>
<rect x="835" y="819" width="1" height="3" fill="#000"/>
<rect x="899" y="819" width="1" height="3" fill="#000"/>
<rect x="963" y="819" width="1" height="3" fill="#000"/>
<rect x="1027" y="819" width="1" height="3" fill="#000"/>
<rect x="1091" y="819" width="1" height="3" fill="#000"/>
<rect x="1155" y="819" width="1" height="3" fill="#000"/>
<rect x="1219" y="819" width="1" height="3" fill="#000"/>
<rect x="1283" y="819" width="1" height="3" fill="#000"/>
<rect x="1347" y="819" width="1" height="3" fill="#000"/>
<rect x="1411" y="819" width="1" height="3" fill="#000"/>
<rect x="1475" y="819" width="1" height="3" fill="#000"/>
<rect x="1539" y="819" width="1" height="3" fill="#000"/>
<rect x="1603" y="819" width="1" height="3" fill="#000"/>
<rect x="0" y="839" width="1723" height="1" fill="#e3e3e3"/>
<rect x="0" y="841" width="261" height="1" fill="#000"/>
<rect x="260" y="841" width="1" height="2" fill="#000"/>
<rect x="339" y="841" width="1384" height="1" fill="#000"/>
<rect x="339" y="841" width="1" height="2" fill="#000"/>
<polygon points="5.8,8.9 13.4,8.9 9.6,13.3" fill="#000" shape-rendering="auto"/>
</g><g>
<text transform="translate(1684,32.3) scale(0.939,1)" font-size="9.8" fill="#000" text-anchor="start" stroke="#000" stroke-width="0.3" >4548.820</text>
<text transform="translate(1684,65.3) scale(0.939,1)" font-size="9.8" fill="#000" text-anchor="start" stroke="#000" stroke-width="0.3" >4536.115</text>
<text transform="translate(1684,98.3) scale(0.939,1)" font-size="9.8" fill="#000" text-anchor="start" stroke="#000" stroke-width="0.3" >4523.025</text>
<text transform="translate(1684,131.3) scale(0.939,1)" font-size="9.8" fill="#000" text-anchor="start" stroke="#000" stroke-width="0.3" >4510.320</text>
<text transform="translate(1684,164.3) scale(0.939,1)" font-size="9.8" fill="#000" text-anchor="start" stroke="#000" stroke-width="0.3" >4497.615</text>
<text transform="translate(1684,197.3) scale(0.939,1)" font-size="9.8" fill="#000" text-anchor="start" stroke="#000" stroke-width="0.3" >4484.525</text>
<text transform="translate(1684,230.3) scale(0.939,1)" font-size="9.8" fill="#000" text-anchor="start" stroke="#000" stroke-width="0.3" >4471.820</text>
<text transform="translate(1684,263.3) scale(0.939,1)" font-size="9.8" fill="#000" text-anchor="start" stroke="#000" stroke-width="0.3" >4459.115</text>
<text transform="translate(1684,329.3) scale(0.939,1)" font-size="9.8" fill="#000" text-anchor="start" stroke="#000" stroke-width="0.3" >4433.320</text>
<text transform="translate(1684,362.3) scale(0.939,1)" font-size="9.8" fill="#000" text-anchor="start" stroke="#000" stroke-width="0.3" >4420.615</text>
<text transform="translate(1684,395.3) scale(0.939,1)" font-size="9.8" fill="#000" text-anchor="start" stroke="#000" stroke-width="0.3" >4407.525</text>
<text transform="translate(1684,428.3) scale(0.939,1)" font-size="9.8" fill="#000" text-anchor="start" stroke="#000" stroke-width="0.3" >4394.820</text>
<text transform="translate(1684,461.3) scale(0.939,1)" font-size="9.8" fill="#000" text-anchor="start" stroke="#000" stroke-width="0.3" >4382.115</text>
<text transform="translate(1684,494.3) scale(0.939,1)" font-size="9.8" fill="#000" text-anchor="start" stroke="#000" stroke-width="0.3" >4369.025</text>
<text transform="translate(1684,527.3) scale(0.939,1)" font-size="9.8" fill="#000" text-anchor="start" stroke="#000" stroke-width="0.3" >4356.320</text>
<text transform="translate(1684,560.3) scale(0.939,1)" font-size="9.8" fill="#000" text-anchor="start" stroke="#000" stroke-width="0.3" >4343.615</text>
</g><g shape-rendering="crispEdges">
<rect x="1678" y="38" width="2" height="2" fill="#ff0000"/><rect x="1680" y="33" width="43" height="11" fill="#ff0000"/>
<rect x="1678" y="115" width="2" height="2" fill="#ff0000"/><rect x="1680" y="110" width="43" height="11" fill="#ff0000"/>
<rect x="1678" y="218" width="2" height="2" fill="#ff0000"/><rect x="1680" y="213" width="43" height="11" fill="#ff0000"/>
<rect x="1678" y="295" width="2" height="2" fill="#2bc82b"/><rect x="1680" y="290" width="43" height="11" fill="#2bc82b"/>
<rect x="1678" y="385" width="2" height="2" fill="#4169e1"/><rect x="1680" y="380" width="43" height="11" fill="#4169e1"/>
<rect x="1678" y="475" width="2" height="2" fill="#4169e1"/><rect x="1680" y="470" width="43" height="11" fill="#4169e1"/>
<rect x="1680" y="308" width="43" height="11" fill="#000"/>
</g>
<g>
<text transform="translate(1684,42) scale(0.939,1)" font-size="9.8" fill="#fff" text-anchor="start" stroke="#fff" stroke-width="0.15" >4545.000</text>
<text transform="translate(1684,119) scale(0.939,1)" font-size="9.8" fill="#fff" text-anchor="start" stroke="#fff" stroke-width="0.15" >4515.000</text>
<text transform="translate(1684,222) scale(0.939,1)" font-size="9.8" fill="#fff" text-anchor="start" stroke="#fff" stroke-width="0.15" >4475.000</text>
<text transform="translate(1684,299) scale(0.939,1)" font-size="9.8" fill="#fff" text-anchor="start" stroke="#fff" stroke-width="0.15" >4445.000</text>
<text transform="translate(1684,389) scale(0.939,1)" font-size="9.8" fill="#fff" text-anchor="start" stroke="#fff" stroke-width="0.15" >4410.000</text>
<text transform="translate(1684,479) scale(0.939,1)" font-size="9.8" fill="#fff" text-anchor="start" stroke="#fff" stroke-width="0.15" >4375.000</text>
<text transform="translate(1684,317) scale(0.939,1)" font-size="9.8" fill="#fff" text-anchor="start" stroke="#fff" stroke-width="0.15" >4438.500</text>
<text x="18.2" y="13.8" font-size="9.8" fill="#000" stroke="#000" stroke-width="0.3" textLength="44.4" lengthAdjust="spacingAndGlyphs">SP500-,H4</text>
<text x="69.3" y="13.8" font-size="9.8" fill="#000" stroke="#000" stroke-width="0.3" textLength="37.4" lengthAdjust="spacingAndGlyphs">4442.750</text>
<text x="110.1" y="13.8" font-size="9.8" fill="#000" stroke="#000" stroke-width="0.3" textLength="37.4" lengthAdjust="spacingAndGlyphs">4448.000</text>
<text x="151.2" y="13.8" font-size="9.8" fill="#000" stroke="#000" stroke-width="0.3" textLength="37.4" lengthAdjust="spacingAndGlyphs">4435.750</text>
<text x="192" y="13.8" font-size="9.8" fill="#000" stroke="#000" stroke-width="0.3" textLength="37.4" lengthAdjust="spacingAndGlyphs">4438.500</text>
<text x="7.4" y="574.6" font-size="9.8" fill="#000" stroke="#000" stroke-width="0.3" textLength="65.4" lengthAdjust="spacingAndGlyphs">MACD(12,26,9)</text>
<text x="76.2" y="574.6" font-size="9.8" fill="#000" stroke="#000" stroke-width="0.3" textLength="35.0" lengthAdjust="spacingAndGlyphs">-14.3521</text>
<text x="115.2" y="574.6" font-size="9.8" fill="#000" stroke="#000" stroke-width="0.3" textLength="35.6" lengthAdjust="spacingAndGlyphs">-12.4678</text>
<text x="7.4" y="713.4" font-size="9.8" fill="#000" stroke="#000" stroke-width="0.3" textLength="31.0" lengthAdjust="spacingAndGlyphs">RSI(14)</text>
<text x="42.3" y="713.4" font-size="9.8" fill="#000" stroke="#000" stroke-width="0.3" textLength="32.3" lengthAdjust="spacingAndGlyphs">33.5148</text>
<text transform="translate(1682.6,572.6) scale(0.939,1)" font-size="9.8" fill="#000" text-anchor="start" stroke="#000" stroke-width="0.3" >18.9218</text>
<text transform="translate(1683,633) scale(0.939,1)" font-size="9.8" fill="#000" text-anchor="start" stroke="#000" stroke-width="0.3" >0.00</text>
<text transform="translate(1682,696) scale(0.939,1)" font-size="9.8" fill="#000" text-anchor="start" stroke="#000" stroke-width="0.3" >-20.2489</text>
<text transform="translate(1682,712) scale(0.939,1)" font-size="9.8" fill="#000" text-anchor="start" stroke="#000" stroke-width="0.3" >100</text>
<text transform="translate(1681.2,741) scale(0.939,1)" font-size="9.8" fill="#000" text-anchor="start" stroke="#000" stroke-width="0.3" >70</text>
<text transform="translate(1681.2,787) scale(0.939,1)" font-size="9.8" fill="#000" text-anchor="start" stroke="#000" stroke-width="0.3" >30</text>
<text transform="translate(1682,814.8) scale(0.939,1)" font-size="9.8" fill="#000" text-anchor="start" stroke="#000" stroke-width="0.3" >0</text>
<text x="2.2" y="830.8" font-size="9.8" fill="#000" stroke="#000" stroke-width="0.3" textLength="47.8" lengthAdjust="spacingAndGlyphs">29 Jul 2021</text>
<text x="66.2" y="830.8" font-size="9.8" fill="#000" stroke="#000" stroke-width="0.3" textLength="51.5" lengthAdjust="spacingAndGlyphs">1 Aug 23:00</text>
<text x="130.2" y="830.8" font-size="9.8" fill="#000" stroke="#000" stroke-width="0.3" textLength="51.5" lengthAdjust="spacingAndGlyphs">3 Aug 04:00</text>
<text x="194.2" y="830.8" font-size="9.8" fill="#000" stroke="#000" stroke-width="0.3" textLength="51.5" lengthAdjust="spacingAndGlyphs">4 Aug 12:00</text>
<text x="258.2" y="830.8" font-size="9.8" fill="#000" stroke="#000" stroke-width="0.3" textLength="51.5" lengthAdjust="spacingAndGlyphs">5 Aug 20:00</text>
<text x="322.2" y="830.8" font-size="9.8" fill="#000" stroke="#000" stroke-width="0.3" textLength="51.5" lengthAdjust="spacingAndGlyphs">9 Aug 00:00</text>
<text x="386.2" y="830.8" font-size="9.8" fill="#000" stroke="#000" stroke-width="0.3" textLength="56.2" lengthAdjust="spacingAndGlyphs">10 Aug 08:00</text>
<text x="450.2" y="830.8" font-size="9.8" fill="#000" stroke="#000" stroke-width="0.3" textLength="56.2" lengthAdjust="spacingAndGlyphs">11 Aug 16:00</text>
<text x="514.2" y="830.8" font-size="9.8" fill="#000" stroke="#000" stroke-width="0.3" textLength="56.2" lengthAdjust="spacingAndGlyphs">13 Aug 00:00</text>
<text x="578.2" y="830.8" font-size="9.8" fill="#000" stroke="#000" stroke-width="0.3" textLength="56.2" lengthAdjust="spacingAndGlyphs">16 Aug 04:00</text>
<text x="642.2" y="830.8" font-size="9.8" fill="#000" stroke="#000" stroke-width="0.3" textLength="56.2" lengthAdjust="spacingAndGlyphs">17 Aug 12:00</text>
<text x="706.2" y="830.8" font-size="9.8" fill="#000" stroke="#000" stroke-width="0.3" textLength="56.2" lengthAdjust="spacingAndGlyphs">18 Aug 20:00</text>
<text x="770.2" y="830.8" font-size="9.8" fill="#000" stroke="#000" stroke-width="0.3" textLength="56.2" lengthAdjust="spacingAndGlyphs">20 Aug 04:00</text>
<text x="834.2" y="830.8" font-size="9.8" fill="#000" stroke="#000" stroke-width="0.3" textLength="56.2" lengthAdjust="spacingAndGlyphs">23 Aug 08:00</text>
<text x="898.2" y="830.8" font-size="9.8" fill="#000" stroke="#000" stroke-width="0.3" textLength="56.2" lengthAdjust="spacingAndGlyphs">24 Aug 16:00</text>
<text x="962.2" y="830.8" font-size="9.8" fill="#000" stroke="#000" stroke-width="0.3" textLength="56.2" lengthAdjust="spacingAndGlyphs">26 Aug 00:00</text>
<text x="1026.2" y="830.8" font-size="9.8" fill="#000" stroke="#000" stroke-width="0.3" textLength="56.2" lengthAdjust="spacingAndGlyphs">27 Aug 08:00</text>
<text x="1090.2" y="830.8" font-size="9.8" fill="#000" stroke="#000" stroke-width="0.3" textLength="56.2" lengthAdjust="spacingAndGlyphs">30 Aug 12:00</text>
<text x="1154.2" y="830.8" font-size="9.8" fill="#000" stroke="#000" stroke-width="0.3" textLength="56.2" lengthAdjust="spacingAndGlyphs">31 Aug 20:00</text>
<text x="1218.2" y="830.8" font-size="9.8" fill="#000" stroke="#000" stroke-width="0.3" textLength="50.6" lengthAdjust="spacingAndGlyphs">2 Sep 04:00</text>
<text x="1282.2" y="830.8" font-size="9.8" fill="#000" stroke="#000" stroke-width="0.3" textLength="50.6" lengthAdjust="spacingAndGlyphs">3 Sep 12:00</text>
<text x="1346.2" y="830.8" font-size="9.8" fill="#000" stroke="#000" stroke-width="0.3" textLength="50.6" lengthAdjust="spacingAndGlyphs">6 Sep 16:00</text>
<text x="1410.2" y="830.8" font-size="9.8" fill="#000" stroke="#000" stroke-width="0.3" textLength="50.6" lengthAdjust="spacingAndGlyphs">8 Sep 00:00</text>
<text x="1474.2" y="830.8" font-size="9.8" fill="#000" stroke="#000" stroke-width="0.3" textLength="50.6" lengthAdjust="spacingAndGlyphs">9 Sep 04:00</text>
<text x="1538.2" y="830.8" font-size="9.8" fill="#000" stroke="#000" stroke-width="0.3" textLength="55.300000000000004" lengthAdjust="spacingAndGlyphs">10 Sep 12:00</text>
<text x="1602.2" y="830.8" font-size="9.8" fill="#000" stroke="#000" stroke-width="0.3" textLength="55.300000000000004" lengthAdjust="spacingAndGlyphs">13 Sep 16:00</text>
<text x="310.2" y="183" font-size="37" letter-spacing="-0.8" fill="#ee1c24">多空转折点</text>
<text x="491.5" y="181.3" font-size="39" textLength="83" lengthAdjust="spacingAndGlyphs" fill="#ee1c24">4445</text>
</g>
</svg></body></html>
